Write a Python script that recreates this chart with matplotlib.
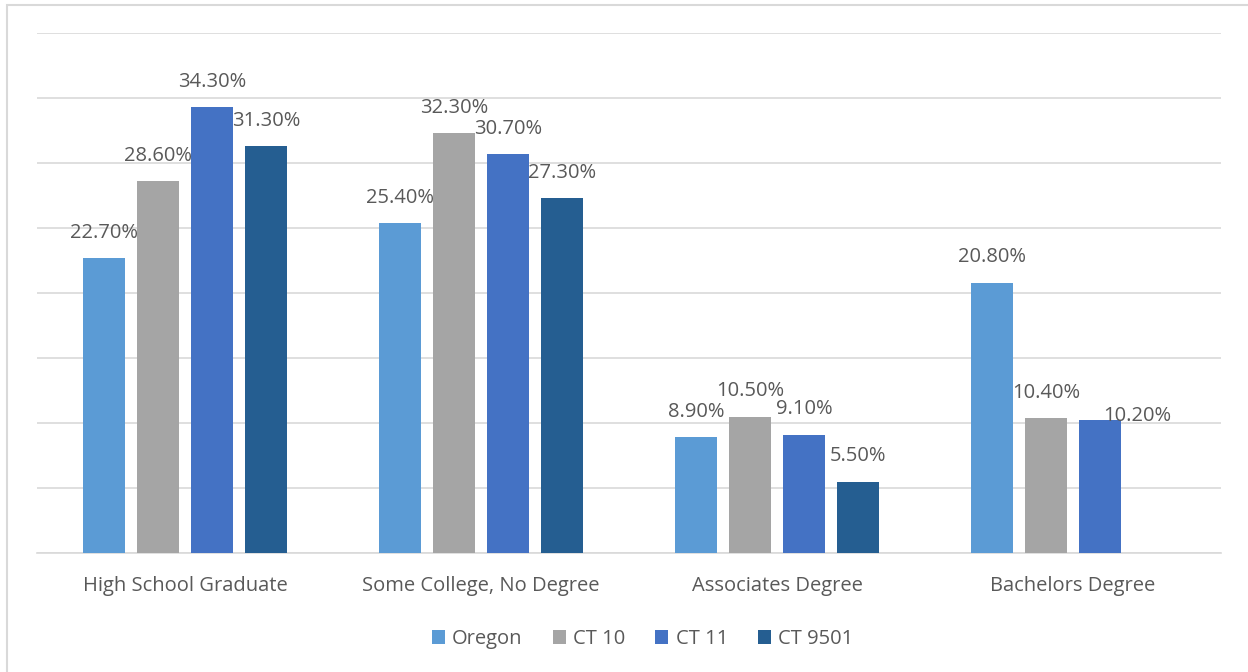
import numpy as np
from matplotlib import pyplot as plt
from matplotlib.patches import Rectangle

categorias = ['High School Graduate', 'Some College, No Degree', 'Associates Degree', 'Bachelors Degree']
series = ['Oregon', 'CT 10', 'CT 11', 'CT 9501']
oregon = [22.7, 25.4, 8.9, 20.8]
ct10 = [28.6, 32.3, 10.5, 10.4]
ct11 = [34.3, 30.7, 9.1, 10.2]
ct9501 = [31.3, 27.3, 5.5, np.nan]  # sin dato en Bachelors

valores = [oregon, ct10, ct11, ct9501]
colores = ['#5B9BD5', '#A5A5A5', '#4472C4', '#255E91']
gris_texto = '#595959'

plt.rcParams['font.family'] = ['Open Sans', 'DejaVu Sans']

fig = plt.figure(figsize=(12.48, 6.72), dpi=100)
ax = fig.add_axes([37/1248, 1 - 553/672, 1184/1248, 520/672])

# borde del grafico
fig.patches.append(Rectangle((7/1248, -0.01), 1.02, 1 - 5/672 + 0.01, transform=fig.transFigure,
                             fill=False, edgecolor='#D9D9D9', linewidth=1.5))

x = np.arange(len(categorias))
paso = 0.1824
ancho = 0.142
for j, (nombre, vals, col) in enumerate(zip(series, valores, colores)):
    pos = x + (j - 1.5) * paso
    ax.bar(pos, vals, width=ancho, color=col, label=nombre, zorder=3)
    for i, v in enumerate(vals):
        if np.isnan(v):
            continue
        dx, dy = 0, 11
        if nombre == 'CT 11' and i == 3:
            dx, dy = 27, -4
        ax.annotate('%.2f%%' % v, (pos[i], v), xytext=(dx, dy), textcoords='offset points',
                    ha='center', va='bottom', fontsize=14.5, color=gris_texto, zorder=4)

ax.set_xlim(-0.5, 3.5)
ax.set_ylim(0, 40)
ax.set_yticks(np.arange(0, 41, 5))
ax.yaxis.grid(True, color='#D9D9D9', linewidth=1.2, zorder=0)
ax.tick_params(axis='y', left=False, labelleft=False)
ax.tick_params(axis='x', length=0, pad=16.5, labelsize=14.5, labelcolor=gris_texto)
ax.set_xticks(x)
ax.set_xticklabels(categorias)
for s in ['top', 'right', 'left']:
    ax.spines[s].set_visible(False)
ax.spines['bottom'].set_color('#D9D9D9')
ax.spines['bottom'].set_linewidth(1.2)

fig.legend(loc='center', bbox_to_anchor=(0.515, 1 - 639/672), ncol=4, frameon=False,
           fontsize=14.5, labelcolor=gris_texto, handlelength=0.65, handleheight=0.65,
           handletextpad=0.35, columnspacing=1.5)

plt.savefig('out.png', dpi=100)
